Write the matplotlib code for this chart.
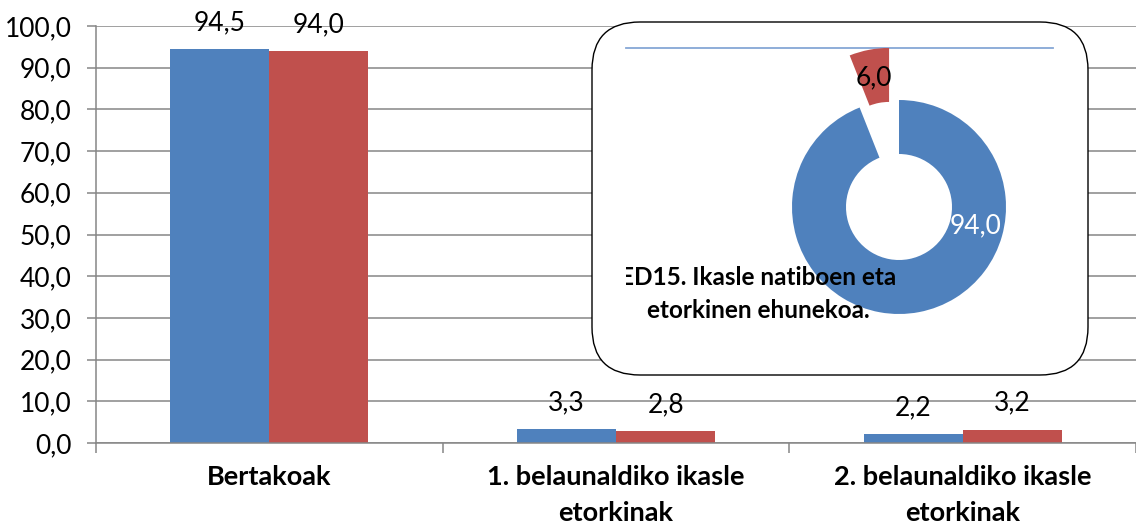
import numpy as np
import matplotlib
matplotlib.use('Agg')
import matplotlib.pyplot as plt
from matplotlib.patches import FancyBboxPatch
from matplotlib.ticker import FuncFormatter, FixedLocator

plt.rcParams['font.family'] = ['Lato', 'DejaVu Sans']

# data
categories = ['Bertakoak', '1. belaunaldiko ikasle\netorkinak', '2. belaunaldiko ikasle\netorkinak']
serie_blue = [94.5, 3.3, 2.2]
serie_red = [94.0, 2.8, 3.2]
donut_values = [94.0, 6.0]
donut_title = 'ED15. Ikasle natiboen eta\netorkinen ehunekoa.'

BLUE = '#4F81BD'
RED = '#C0504D'
GRID = '#868686'

def comma(v):
    return f'{v:.1f}'.replace('.', ',')

W, H = 1136, 524
fig = plt.figure(figsize=(W / 100, H / 100), dpi=100)

# main bar chart
ax = fig.add_axes([96 / W, (H - 443) / H, (W - 96) / W, (443 - 26) / H])
x = np.arange(len(categories))
bw = 0.286
b1 = ax.bar(x - bw / 2, serie_blue, bw, color=BLUE, zorder=2)
b2 = ax.bar(x + bw / 2, serie_red, bw, color=RED, zorder=2)
ax.bar_label(b1, labels=[comma(v) for v in serie_blue], padding=10, fontsize=19)
ax.bar_label(b2, labels=[comma(v) for v in serie_red], padding=10, fontsize=19)

ax.set_xlim(-0.5, len(categories) - 0.5)
ax.set_ylim(0, 100)
ax.set_yticks(np.arange(0, 101, 10))
ax.yaxis.set_major_formatter(FuncFormatter(lambda v, p: comma(v)))
ax.grid(axis='y', color=GRID, lw=1.1, zorder=0)
ax.set_axisbelow(True)
for s in ['top', 'right']:
    ax.spines[s].set_visible(False)
for s in ['left', 'bottom']:
    ax.spines[s].set_color(GRID)
    ax.spines[s].set_linewidth(1.1)
ax.tick_params(axis='y', length=6.5, width=1.1, color=GRID, pad=11, labelsize=19)
ax.set_xticks(x)
ax.set_xticklabels(categories, fontweight='bold', fontsize=19.5, multialignment='center',
                   linespacing=1.6)
ax.tick_params(axis='x', which='major', length=0, pad=16)
ax.xaxis.set_minor_locator(FixedLocator(np.arange(-0.5, len(categories), 1.0)))
ax.tick_params(axis='x', which='minor', length=7, width=1.1, color=GRID)

# overlay with rounded box
ov = fig.add_axes([0, 0, 1, 1], zorder=3)
ov.set_xlim(0, W)
ov.set_ylim(H, 0)
ov.axis('off')
ov.add_patch(FancyBboxPatch((592, 22), 496, 353, boxstyle='round,pad=0,rounding_size=48',
                            fc='white', ec='black', lw=1.0))
ov.plot([626, 1053], [48, 48], color='#86A7D6', lw=1.3)

# donut inset (1 data unit = 1 pixel)
dx0, dx1, dy0, dy1 = 626, 1053, 48, 360
dax = fig.add_axes([dx0 / W, (H - dy1) / H, (dx1 - dx0) / W, (dy1 - dy0) / H], zorder=4)
cx, cy, R = 899, H - 207, 107
wedges, _ = dax.pie(donut_values, colors=[BLUE, RED], startangle=90, counterclock=False,
                    explode=[0, 53], radius=R, center=(cx, cy),
                    wedgeprops=dict(width=54, linewidth=0))
for w in wedges:
    w.set_clip_on(True)
dax.set_aspect('auto')
dax.set_xlim(dx0, dx1)
dax.set_ylim(H - dy1, H - dy0)
dax.axis('off')

# labels on the donut
red = wedges[1]
rc = red.center
rm = np.deg2rad((red.theta1 + red.theta2) / 2)
dax.text(rc[0] + 79 * np.cos(rm), rc[1] + 79 * np.sin(rm), comma(donut_values[1]),
         ha='center', va='center', fontsize=19, color='black')
bm = np.deg2rad(-14)
dax.text(cx + 79 * np.cos(bm), cy + 79 * np.sin(bm), comma(donut_values[0]),
         ha='center', va='center', fontsize=19, color='white')

dax.text(758, H - 294, donut_title, ha='center', va='center', fontsize=17.5,
         fontweight='bold', multialignment='center', linespacing=1.55, clip_on=True)

fig.savefig('out.png', dpi=100)
